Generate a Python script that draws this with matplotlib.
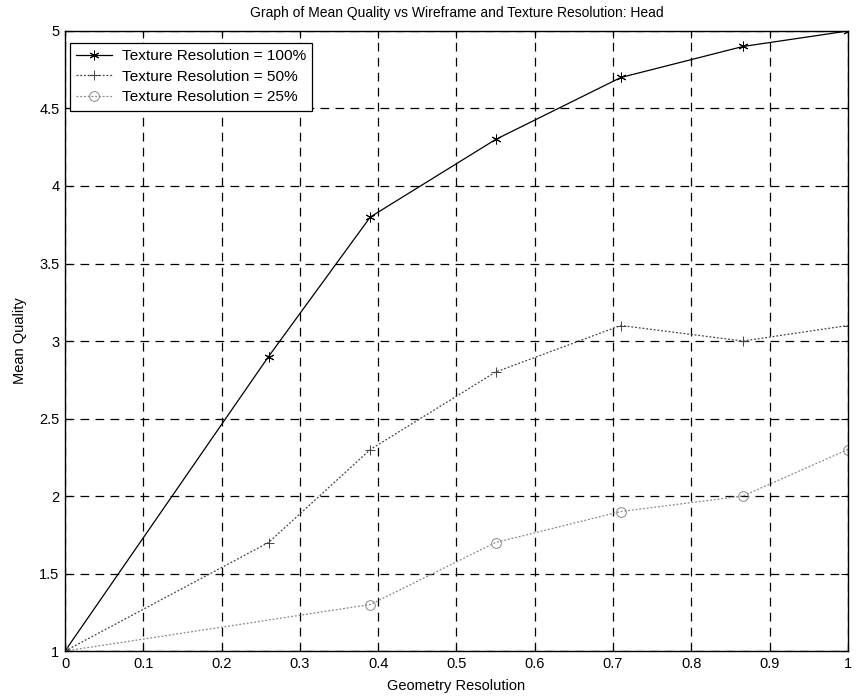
import matplotlib
matplotlib.use("Agg")
from matplotlib import pyplot as plt
import numpy as np

plt.rcParams['font.family'] = ['Liberation Sans', 'DejaVu Sans']

# geometry resolution levels (x positions of the measurements)
geometry = [0.0, 0.26, 0.39, 0.55, 0.71, 0.866, 1.0]
quality_100 = [1.0, 2.9, 3.8, 4.3, 4.7, 4.9, 5.0]
quality_50 = [1.0, 1.7, 2.3, 2.8, 3.1, 3.0, 3.1]
# the 25% series has no measurement at 0.26
geometry_25 = [0.0, 0.39, 0.55, 0.71, 0.866, 1.0]
quality_25 = [1.0, 1.3, 1.7, 1.9, 2.0, 2.3]

labels = ['Texture Resolution = 100%', 'Texture Resolution = 50%',
          'Texture Resolution = 25%']

fig = plt.figure(figsize=(8.59, 6.98), dpi=100)
ax = fig.add_axes([0.0757, 0.0673, 0.9113, 0.8883])

# MATLAB-like asterisk marker
asterisk = (6, 2, 0)
ax.plot(geometry, quality_100, color='black', linestyle='-', linewidth=0.9,
        marker=asterisk, markersize=7, markeredgewidth=0.7, label=labels[0])
ax.plot(geometry, quality_50, color='#444444', linestyle=(0, (1.5, 1.5)), linewidth=0.9,
        marker='+', markersize=7, markeredgewidth=0.7, label=labels[1])
ax.plot(geometry_25, quality_25, color='#888888', linestyle=(0, (1.5, 1.5)), linewidth=0.9,
        marker='o', markersize=7, markerfacecolor='none', markeredgewidth=0.7,
        label=labels[2])

ax.set_xlim(0, 1)
ax.set_ylim(1, 5)
ax.set_xticks(np.arange(0, 1.01, 0.1))
ax.set_xticklabels(['0', '0.1', '0.2', '0.3', '0.4', '0.5', '0.6', '0.7', '0.8', '0.9', '1'])
ax.set_yticks(np.arange(1, 5.01, 0.5))
ax.set_yticklabels(['1', '1.5', '2', '2.5', '3', '3.5', '4', '4.5', '5'])
ax.tick_params(direction='in', top=True, right=True, length=5, labelsize=10.5,
               width=0.8, pad=4)
ax.grid(True, color='black', linestyle=(0, (7, 5)), linewidth=0.9)

for s in ax.spines.values():
    s.set_linewidth(1.0)

ax.set_title('Graph of Mean Quality vs Wireframe and Texture Resolution: Head',
             fontsize=10, pad=10)
ax.set_xlabel('Geometry Resolution', fontsize=10.5, labelpad=6)
ax.set_ylabel('Mean Quality', fontsize=10.5, labelpad=9)

leg = ax.legend(loc='upper left', bbox_to_anchor=(0.006, 0.981), fontsize=11.1,
                fancybox=False, framealpha=1, edgecolor='black', borderaxespad=0,
                handlelength=2.3, handletextpad=0.65, labelspacing=0.42,
                borderpad=0.42)
leg.get_frame().set_linewidth(0.9)

fig.savefig('out.png', dpi=100)
